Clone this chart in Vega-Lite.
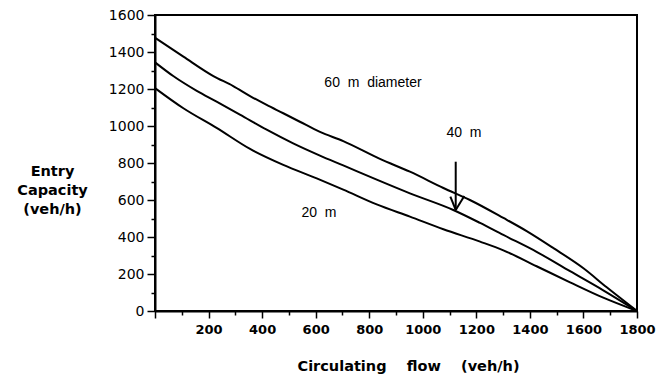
{
  "$schema": "https://vega.github.io/schema/vega-lite/v6.json",
  "autosize": "none",
  "width": 482,
  "height": 296,
  "padding": {"left": 155, "top": 15, "right": 29, "bottom": 65},
  "background": "white",
  "config": {
    "view": {"stroke": "black", "strokeWidth": 2},
    "axis": {"grid": false, "domainColor": "black", "domainWidth": 2, "tickColor": "black", "tickWidth": 1.5, "labelColor": "black", "titleColor": "black", "labelFlush": false}
  },
  "datasets": {
    "curves": [
      {"series": "60 m", "flow": 0, "cap": 1477},
      {"series": "60 m", "flow": 106, "cap": 1375},
      {"series": "60 m", "flow": 218, "cap": 1270},
      {"series": "60 m", "flow": 292, "cap": 1216},
      {"series": "60 m", "flow": 355, "cap": 1162},
      {"series": "60 m", "flow": 417, "cap": 1114},
      {"series": "60 m", "flow": 479, "cap": 1069},
      {"series": "60 m", "flow": 541, "cap": 1023},
      {"series": "60 m", "flow": 616, "cap": 968},
      {"series": "60 m", "flow": 703, "cap": 918},
      {"series": "60 m", "flow": 840, "cap": 822},
      {"series": "60 m", "flow": 952, "cap": 753},
      {"series": "60 m", "flow": 1077, "cap": 665},
      {"series": "60 m", "flow": 1176, "cap": 600},
      {"series": "60 m", "flow": 1301, "cap": 503},
      {"series": "60 m", "flow": 1388, "cap": 432},
      {"series": "60 m", "flow": 1488, "cap": 340},
      {"series": "60 m", "flow": 1600, "cap": 231},
      {"series": "60 m", "flow": 1687, "cap": 128},
      {"series": "60 m", "flow": 1800, "cap": 0},
      {"series": "40 m", "flow": 0, "cap": 1344},
      {"series": "40 m", "flow": 68, "cap": 1270},
      {"series": "40 m", "flow": 156, "cap": 1190},
      {"series": "40 m", "flow": 230, "cap": 1132},
      {"series": "40 m", "flow": 317, "cap": 1062},
      {"series": "40 m", "flow": 417, "cap": 980},
      {"series": "40 m", "flow": 516, "cap": 906},
      {"series": "40 m", "flow": 616, "cap": 840},
      {"series": "40 m", "flow": 703, "cap": 787},
      {"series": "40 m", "flow": 828, "cap": 710},
      {"series": "40 m", "flow": 952, "cap": 636},
      {"series": "40 m", "flow": 1114, "cap": 546},
      {"series": "40 m", "flow": 1214, "cap": 476},
      {"series": "40 m", "flow": 1301, "cap": 411},
      {"series": "40 m", "flow": 1425, "cap": 320},
      {"series": "40 m", "flow": 1550, "cap": 215},
      {"series": "40 m", "flow": 1674, "cap": 112},
      {"series": "40 m", "flow": 1800, "cap": 0},
      {"series": "20 m", "flow": 0, "cap": 1205},
      {"series": "20 m", "flow": 106, "cap": 1096},
      {"series": "20 m", "flow": 230, "cap": 990},
      {"series": "20 m", "flow": 355, "cap": 876},
      {"series": "20 m", "flow": 479, "cap": 790},
      {"series": "20 m", "flow": 604, "cap": 717},
      {"series": "20 m", "flow": 703, "cap": 656},
      {"series": "20 m", "flow": 828, "cap": 576},
      {"series": "20 m", "flow": 952, "cap": 510},
      {"series": "20 m", "flow": 1077, "cap": 442},
      {"series": "20 m", "flow": 1214, "cap": 375},
      {"series": "20 m", "flow": 1301, "cap": 328},
      {"series": "20 m", "flow": 1425, "cap": 242},
      {"series": "20 m", "flow": 1550, "cap": 155},
      {"series": "20 m", "flow": 1674, "cap": 72},
      {"series": "20 m", "flow": 1800, "cap": 0}
    ],
    "labels": [
      {"text": "60\u00a0\u00a0m\u00a0\u00a0diameter", "flow": 814, "cap": 1232},
      {"text": "40\u00a0\u00a0m", "flow": 1154, "cap": 962},
      {"text": "20\u00a0\u00a0m", "flow": 612, "cap": 530}
    ],
    "arrow": [
      {"flow": 1123, "cap": 807, "flow2": 1123, "cap2": 546},
      {"flow": 1103, "cap": 618, "flow2": 1123, "cap2": 546},
      {"flow": 1155, "cap": 622, "flow2": 1123, "cap2": 546}
    ]
  },
  "encoding": {
    "x": {
      "field": "flow", "type": "quantitative",
      "scale": {"domain": [0, 1800], "nice": false, "zero": true},
      "axis": {
        "values": [0, 100, 200, 300, 400, 500, 600, 700, 800, 900, 1000, 1100, 1200, 1300, 1400, 1500, 1600, 1700, 1800],
        "labelExpr": "datum.value % 200 === 0 && datum.value > 0 ? datum.label : ''",
        "format": "d",
        "tickSize": {"condition": {"test": "datum.value % 200 === 0", "value": 7}, "value": 4},
        "labelFont": "DejaVu Sans", "labelFontWeight": "bold", "labelFontSize": 13,
        "labelPadding": 5,
        "labelOverlap": false,
        "title": "Circulating\u00a0\u00a0\u00a0\u00a0flow\u00a0\u00a0\u00a0\u00a0(veh/h)",
        "titleFont": "DejaVu Sans", "titleFontWeight": "bold", "titleFontSize": 14.5,
        "titleX": 253, "titleY": 59, "titleBaseline": "alphabetic", "titleAlign": "center"
      }
    },
    "y": {
      "field": "cap", "type": "quantitative",
      "scale": {"domain": [0, 1600], "nice": false},
      "axis": {
        "values": [0, 100, 200, 300, 400, 500, 600, 700, 800, 900, 1000, 1100, 1200, 1300, 1400, 1500, 1600],
        "labelExpr": "datum.value % 200 === 0 ? datum.label : ''",
        "format": "d",
        "tickSize": {"condition": {"test": "datum.value % 200 === 0", "value": 8}, "value": 4},
        "labelFont": "DejaVu Sans", "labelFontSize": 14,
        "labelPadding": 3,
        "labelOverlap": false,
        "title": ["Entry", "Capacity", "(veh/h)"],
        "titleFont": "DejaVu Sans", "titleFontWeight": "bold", "titleFontSize": 14.5,
        "titleAngle": 0, "titleAlign": "center", "titleBaseline": "alphabetic",
        "titleX": -103, "titleY": 160, "titleLineHeight": 19
      }
    }
  },
  "layer": [
    {
      "data": {"name": "curves"},
      "mark": {"type": "line", "color": "black", "strokeWidth": 2, "interpolate": "monotone"},
      "encoding": {"detail": {"field": "series"}}
    },
    {
      "data": {"name": "arrow"},
      "mark": {"type": "rule", "color": "black", "strokeWidth": 2},
      "encoding": {
        "x2": {"field": "flow2"},
        "y2": {"field": "cap2"}
      }
    },
    {
      "data": {"name": "labels"},
      "mark": {"type": "text", "font": "Liberation Sans", "fontSize": 14, "color": "black", "align": "center", "baseline": "middle"},
      "encoding": {"text": {"field": "text"}}
    }
  ]
}
